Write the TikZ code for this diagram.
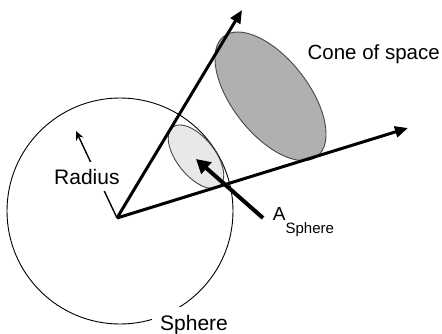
\documentclass[tikz,border=0pt]{standalone}
\usepackage{fontspec}
\setmainfont{Liberation Sans}
\usetikzlibrary{arrows.meta, calc}
\definecolor{conefill}{RGB}{176,176,176}
\definecolor{capfill}{RGB}{232,232,232}
\definecolor{rim}{RGB}{70,70,70}

\begin{document}
\begin{tikzpicture}[x=10pt, y=10pt,
    font=\fontsize{21}{25}\selectfont,
    ray/.style={line width=3pt, -{Triangle[length=13pt, width=11pt]}},
    patch/.style={draw=rim, line width=0.9pt}]
  \useasboundingbox (0,0) rectangle (44.2,33.3);
  % the sphere
  \draw[line width=0.9pt] (12.0,12.2) circle (11.3);
  % far and near cross sections of the cone
  \draw[patch, fill=conefill, rotate around={-52:(27.05,23.67)}]
    (27.05,23.67) ellipse (7.6 and 3.8);
  \draw[patch, fill=capfill, rotate around={-51.5:(19.6,17.63)}]
    (19.6,17.63) ellipse (3.77 and 1.9);
  % cone edges
  \coordinate (origin) at (11.7,11.5);
  \coordinate (edgeA) at (24.2,32.3);
  \coordinate (edgeB) at (40.8,20.5);
  \draw[ray] (origin) -- (edgeA);
  \draw[ray] (origin) -- (edgeB);
  % radius
  \coordinate (radtip) at (7.6,20.2);
  \draw[line width=1.4pt, -{Stealth[length=9pt, width=8pt]}] (origin) -- (radtip);
  \node[fill=white, inner xsep=1pt, inner ysep=7pt, anchor=base west]
    (radius) at (5.3,14.9) {Radius};
  % area on the sphere
  \node[anchor=base west, inner sep=0pt, font=\fontsize{19}{22}\selectfont]
    (asphere) at (27.27,11.3)
    {A\raisebox{-13pt}{\fontsize{15}{18}\selectfont Sphere}};
  \coordinate (astart) at (26.3,11.5);
  \coordinate (capmid) at (19.6,17.4);
  \draw[line width=4pt, -{Triangle[length=14pt, width=15pt]}] (astart) -- (capmid);
  % labels
  \node[anchor=base east, inner sep=0pt, font=\fontsize{20.5}{24}\selectfont]
    (cone) at (44.0,27.4) {Cone of space};
  \node[fill=white, inner sep=8pt, anchor=base west] (sphere) at (15.2,0.3) {Sphere};
\end{tikzpicture}
\end{document}
